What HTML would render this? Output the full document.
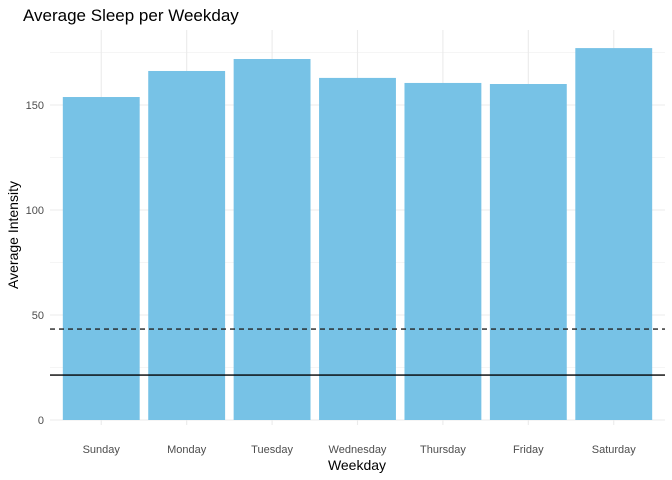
<!DOCTYPE html>
<html><head><meta charset="utf-8"><style>
body{margin:0;background:#fff;}
svg{display:block;font-family:"Liberation Sans",Arial,sans-serif;}
</style></head><body>
<svg id="chart" width="672" height="480">
<text x="23" y="21" font-size="17" fill="#000">Average Sleep per Weekday</text>
<g id="grid"></g><g id="bars"></g><g id="lines"></g><g id="axes"></g>
<text x="357" y="470" font-size="14" text-anchor="middle" fill="#000">Weekday</text>
<text transform="translate(18,235) rotate(-90)" font-size="14" text-anchor="middle" fill="#000">Average Intensity</text>
</svg>
<script>
const categories=["Sunday","Monday","Tuesday","Wednesday","Thursday","Friday","Saturday"];
const values=[153.8,166.2,171.9,162.9,160.5,160.0,177.1];
const yTicks=[0,50,100,150];
const yMinor=[25,75,125,175];
const dashedRef=43.3;
const solidRef=21.4;
const NS="http://www.w3.org/2000/svg";
const pLeft=50,pRight=665,panelTop=30,y0=420,pxPer=2.1;
const step=(pRight-pLeft)/(categories.length+0.2);
const xs=i=>pLeft+step*(0.6+i);
const ys=v=>y0-v*pxPer;
function mk(tag,attrs,parent){const e=document.createElementNS(NS,tag);for(const k in attrs)e.setAttribute(k,attrs[k]);document.getElementById(parent).appendChild(e);return e;}
yMinor.forEach(v=>{const l=mk('line',{x1:pLeft,x2:pRight,y1:ys(v),y2:ys(v),stroke:'#ebebeb','stroke-width':0.6},'grid');

});
yTicks.forEach(v=>{const l=mk('line',{x1:pLeft,x2:pRight,y1:ys(v),y2:ys(v),stroke:'#ebebeb','stroke-width':1.1},'grid');


const t=mk('text',{x:44,y:ys(v)+4,'font-size':11,'text-anchor':'end',fill:'#4d4d4d'},'axes');t.textContent=v;

});
categories.forEach((c,i)=>{const l=mk('line',{x1:xs(i),x2:xs(i),y1:panelTop,y2:y0+5,stroke:'#ebebeb','stroke-width':1.1},'grid');


const w=step*0.9;
const b=mk('rect',{x:xs(i)-w/2,y:ys(values[i]),width:w,height:y0-ys(values[i]),fill:'#77c2e6'},'bars');


const t=mk('text',{x:xs(i),y:453,'font-size':11,'text-anchor':'middle',fill:'#4d4d4d'},'axes');t.textContent=c;

});
const d=mk('line',{x1:pLeft,x2:pRight,y1:ys(dashedRef),y2:ys(dashedRef),stroke:'#222','stroke-width':1.3,'stroke-dasharray':'5,4'},'lines');


const s=mk('line',{x1:pLeft,x2:pRight,y1:ys(solidRef),y2:ys(solidRef),stroke:'#000','stroke-width':1.3},'lines');


</script>
</body></html>
